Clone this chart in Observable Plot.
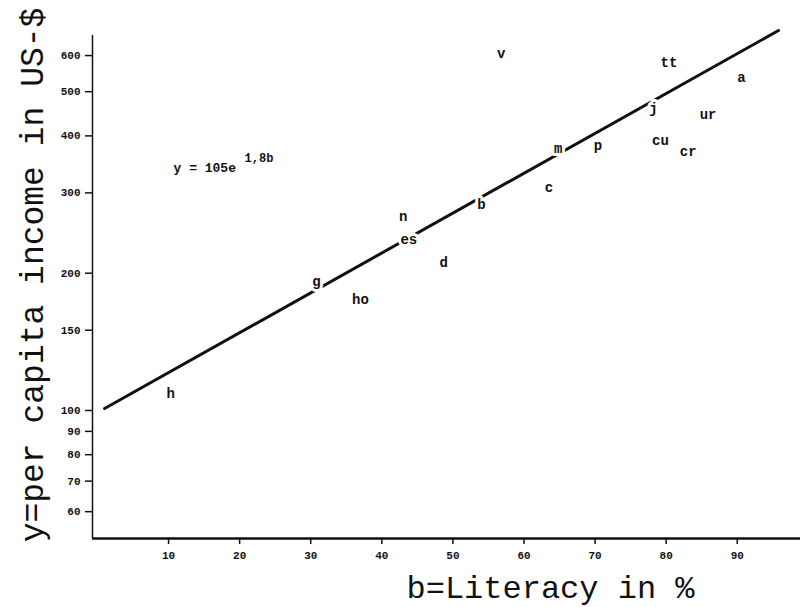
<!DOCTYPE html>
<html><head><meta charset="utf-8">
<script src="https://cdn.jsdelivr.net/npm/d3@7"></script>
<script src="https://cdn.jsdelivr.net/npm/@observablehq/plot@0.6"></script>
<style>body{margin:0;background:#fff}</style></head>
<body><div id="chart"></div>
<script>
// Country codes, literacy (%), per capita income (US-$)
const codes    = ["h","g","ho","n","es","d","b","v","c","m","p","j","cu","cr","tt","ur","a"];
const literacy = [10.3,30.8,37.0,43.0,43.8,48.7,54.0,56.8,63.5,64.8,70.4,78.2,79.2,83.1,80.4,85.9,90.6];
const income   = [109,192,175,266,237,211,283,607,308,375,381,459,391,370,580,446,537];

// Fitted line (endpoints as drawn)
const fitLiteracy = [1.0, 95.8];
const fitIncome   = [101, 681];

const xTicks = [10,20,30,40,50,60,70,80,90];
const yTicks = [60,70,80,90,100,150,200,300,400,500,600];

const formulaMain = "y = 105e";
const formulaExp = "1,8b";
const formulaAt = {literacy: 10.7, income: 340};

const xLabel = "b=Literacy in %";
const yLabel = "y=per capita income in US-$";

const points = codes.map((c, i) => ({code: c, literacy: literacy[i], income: income[i]}));
const fit = fitLiteracy.map((l, i) => ({literacy: l, income: fitIncome[i]}));

const xDomain = [-0.7, 98.9];
const yDomain = [52.4, 664];
const mono = "'Liberation Mono', 'DejaVu Sans Mono', monospace";

const chart = Plot.plot({
  width: 800, height: 607,
  marginLeft: 92, marginRight: 0, marginTop: 35, marginBottom: 69,
  style: {fontFamily: mono, background: "#fff", color: "#111"},
  x: {domain: xDomain},
  y: {type: "log", domain: yDomain},
  marks: [
    Plot.ruleY([yDomain[0]], {stroke: "#111", strokeWidth: 2.5}),
    Plot.ruleX([xDomain[0]], {stroke: "#111", strokeWidth: 1.5}),
    Plot.axisX({ticks: xTicks, tickSize: 6, tickPadding: 7, fontSize: 11, fontWeight: "bold", label: null, strokeWidth: 1.5}),
    Plot.axisY({ticks: yTicks, tickFormat: d => String(d), tickSize: 7, tickPadding: 5, fontSize: 11, fontWeight: "bold", label: null, strokeWidth: 1.5}),
    Plot.line(fit, {x: "literacy", y: "income", stroke: "#111", strokeWidth: 3}),
    Plot.text(points, {x: "literacy", y: "income", text: "code", fontSize: 14, fontWeight: "bold",
      fill: "#111", stroke: "white", strokeWidth: 6}),
    Plot.text([formulaAt], {x: "literacy", y: "income", text: () => formulaMain, textAnchor: "start",
      fontSize: 13, fontWeight: "bold", fill: "#111"}),
    Plot.text([formulaAt], {x: "literacy", y: "income", text: () => formulaExp, textAnchor: "start",
      dx: 71, dy: -10, fontSize: 12, fontWeight: "bold", fill: "#111"}),
    Plot.text([xLabel], {frameAnchor: "bottom", text: d => d, textAnchor: "middle", dx: 104, dy: 49, fontSize: 32, fill: "#111", lineAnchor: "middle"}),
    Plot.text([yLabel], {frameAnchor: "left", text: d => d, textAnchor: "middle", rotate: -90, dx: -60, dy: -12, fontSize: 33, fill: "#111", lineAnchor: "middle"})
  ]
});
document.getElementById("chart").appendChild(chart);
</script></body></html>
